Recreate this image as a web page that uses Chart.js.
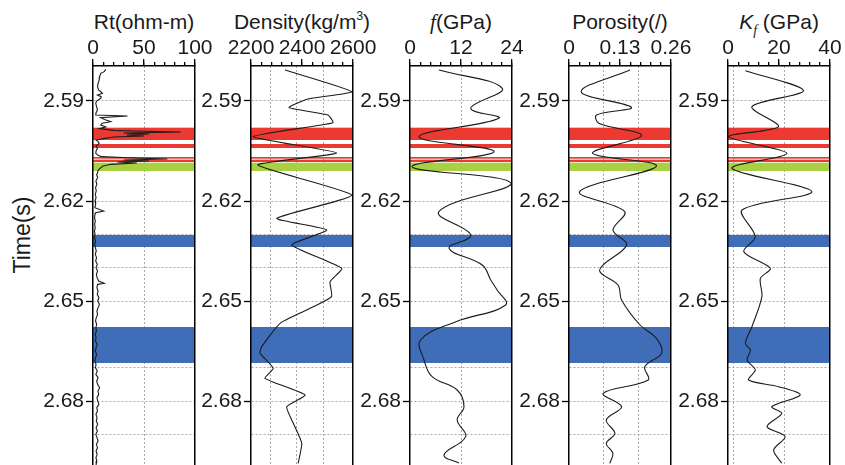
<!DOCTYPE html>
<html><head><meta charset="utf-8">
<script src="https://cdn.jsdelivr.net/npm/chart.js@4.4.1/dist/chart.umd.min.js"></script>
<style>
html,body{margin:0;padding:0;background:#fff;}
#wrap{position:relative;width:845px;height:465px;overflow:hidden;font-family:"Liberation Sans",Arial,sans-serif;color:#1a1a1a;}
canvas{position:absolute;top:0;}
.ttl{position:absolute;top:9px;width:220px;text-align:center;font-size:21px;line-height:26px;white-space:nowrap;}
.ttl sup{font-size:12px;vertical-align:9px;line-height:0;}
.ttl sub{font-size:14px;vertical-align:-6px;line-height:0;}
.it{font-family:"Liberation Serif",serif;font-style:italic;}
#ytitle{position:absolute;left:-38px;top:222px;width:120px;height:26px;line-height:26px;text-align:center;font-size:23px;transform:rotate(-90deg);white-space:nowrap;}
</style></head>
<body><div id="wrap">
<div class="ttl" style="left:34px">Rt(ohm-m)</div>
<div class="ttl" style="left:192px">Density(kg/m<sup>3</sup>)</div>
<div class="ttl" style="left:351px"><span class="it">f</span>(GPa)</div>
<div class="ttl" style="left:510px">Porosity(/)</div>
<div class="ttl" style="left:669px"><i>K</i><sub class="it">f</sub> (GPa)</div>
<div id="ytitle">Time(s)</div>
</div>
<script>
// ---------- data ----------
const timeGridTicks = [2.59,2.60,2.61,2.62,2.63,2.64,2.65,2.66,2.67,2.68,2.69];
const timeLabelTicks = [2.59,2.62,2.65,2.68];

const rtTicks = [0,50,100];
const denTicks = [2200,2400,2600];
const fTicks = [0,12,24];
const porTicks = [0,0.13,0.26];
const kfTicks = [0,20,40];
const rtTickLabels = ['0','50','100'];
const denTickLabels = ['2200','2400','2600'];
const fTickLabels = ['0','12','24'];
const porTickLabels = ['0','0.13','0.26'];
const kfTickLabels = ['0','20','40'];

const bandStart = [2.5980,2.6029,2.6068,2.6076,2.6085,2.6302,2.6578];
const bandEnd   = [2.6017,2.6041,2.6073,2.6083,2.6110,2.6338,2.6686];
const bandColor = ['#ec3a32','#ec3a32','#ec3a32','#ec3a32','#a8d042','#3f6db8','#3f6db8'];

const rtTime = [2.5805,2.5812,2.5817,2.5827,2.5837,2.5847,2.5857,2.5867,2.5877,2.5882,2.5887,2.5892,2.5900,2.5907,2.5917,2.5927,2.5935,2.5942,2.5945,2.5950,2.5956,2.5962,2.5967,2.5972,2.5978,2.5983,2.5988,2.5990,2.5993,2.5996,2.5999,2.6002,2.6005,2.6008,2.6012,2.6017,2.6022,2.6027,2.6035,2.6042,2.6050,2.6057,2.6063,2.6067,2.6071,2.6074,2.6077,2.6080,2.6083,2.6086,2.6090,2.6095,2.6100,2.6108,2.6117,
2.612,2.613,2.614,2.615,2.616,2.617,2.618,2.619,2.620,2.621,2.622,2.623,2.6235,2.624,2.625,2.626,2.627,2.628,2.629,2.630,2.631,2.632,2.633,2.634,2.635,2.636,2.637,2.638,2.639,2.640,2.641,2.642,2.643,2.644,2.6447,2.645,2.646,2.647,2.648,2.649,2.650,2.651,2.652,2.653,2.654,2.655,2.656,2.657,2.658,2.659,2.660,2.661,2.662,2.663,2.664,2.665,2.666,2.667,2.668,2.669,2.670,2.671,2.672,2.673,2.674,2.675,2.676,2.677,2.678,2.679,2.680,2.681,2.682,2.683,2.684,2.685,2.686,2.687,2.688,2.689,2.690,2.691,2.692,2.693,2.694,2.695,2.696,2.697,2.698,2.699];
const rtValue = [12.5,11,7.6,6.5,6.1,5,4.4,5.5,9.3,4.4,8,7.6,3.5,2.7,3.5,4.4,3,2.7,33.8,7.6,12,17.5,9,7.6,12.5,6.1,20,40,86,30,55,33,50,20,12,3,5,6,3,4.4,3,2.7,5,8,40,73,30,55,24,43,17.5,10,7.6,5,4.4,
3.5,4.5,2.8,3.8,2.5,3.2,2.2,3.0,2.0,2.6,1.8,10.5,2.5,2.0,1.5,2.3,1.6,2.2,1.4,2.0,1.5,2.6,1.7,2.4,3.2,2.2,3.5,2.6,4.2,3.0,4.5,3.3,4.0,5.5,11,4.5,3.8,5.0,4.2,5.8,4.6,6.3,5.0,3.8,4.5,3.2,2.5,3.6,2.8,3.4,2.2,3.0,2.4,4.0,3.1,2.2,3.5,2.6,1.8,3.0,2.4,4.2,2.8,5.0,3.6,4.5,6.5,4.8,5.6,3.9,4.6,5.8,3.7,4.4,2.9,4.0,3.2,4.6,3.0,4.3,2.8,3.9,5.0,3.3,4.4,3.0,4.1,2.9,3.8,3.1];

const denTime  = [2.5807,2.5872,2.5894,2.5920,2.5942,2.5965,2.6007,2.6056,2.6092,2.6182,2.6252,2.6287,2.6332,2.6402,2.6442,2.6487,2.6527,2.6567,2.6637,2.6656,2.6702,2.6732,2.6782,2.6817,2.6867,2.6927,2.6987];
const denValue = [2333,2595,2423,2349,2502,2521,2208,2536,2227,2595,2301,2497,2360,2556,2510,2516,2418,2314,2242,2235,2287,2255,2412,2340,2366,2399,2385];

const fTime  = [2.5807,2.5862,2.5922,2.5952,2.6007,2.6052,2.6097,2.6147,2.6232,2.6302,2.6342,2.6392,2.6437,2.6467,2.6512,2.6562,2.6617,2.6677,2.6727,2.6767,2.6817,2.6857,2.6907,2.6962,2.6986];
const fValue = [6.8,21.7,14.3,20.9,2.1,19.8,0.5,23.8,6.8,14.3,9.2,17.0,19.0,20.5,22.5,10.8,2.5,3.3,5.2,11.1,12.7,11.1,13.1,8.0,11.5];

const porTime  = [2.5807,2.5872,2.5919,2.5942,2.5967,2.6004,2.6057,2.6095,2.6172,2.6232,2.6287,2.6332,2.6407,2.6452,2.6497,2.6572,2.6612,2.6657,2.6697,2.6737,2.6777,2.6817,2.6857,2.6897,2.6927,2.6957,2.6987];
const porValue = [0.155,0.031,0.159,0.070,0.076,0.185,0.060,0.223,0.027,0.142,0.112,0.147,0.078,0.125,0.134,0.181,0.223,0.236,0.193,0.202,0.087,0.134,0.095,0.117,0.095,0.112,0.104];

const kfTime  = [2.5809,2.5869,2.5917,2.5977,2.6007,2.6057,2.6102,2.6172,2.6227,2.6307,2.6352,2.6402,2.6432,2.6487,2.6577,2.6627,2.6647,2.6677,2.6707,2.6737,2.6757,2.6782,2.6817,2.6837,2.6877,2.6907,2.6947,2.6987];
const kfValue = [6.8,29.6,9.4,19.8,0.3,23.1,1.6,32.9,5.5,10.7,6.2,16.6,12.7,13.3,9.4,6.8,8.8,7.5,10.7,8.1,19.8,28.3,17.2,21.1,15.3,22.4,17.9,21.1];

// ---------- layout ----------
const T_MIN = 2.5795, T_MAX = 2.6992;
const PLOT_W = 102, PAD_R = 25, TOP_H = 66, H = 465;
const FONT = {family:'"Liberation Sans", Arial, sans-serif', size:21, lineHeight:1.0};
const TXT = '#1a1a1a';

const panels = [
  {left:93,  axisW:93, min:0,    max:100,  major:rtTicks,  labels:rtTickLabels,  minorStep:10,    grid:[50],           time:rtTime,  vals:rtValue,  tension:0,    bw:1.1},
  {left:251, axisW:60, min:2200, max:2600, major:denTicks, labels:denTickLabels, minorStep:40,    grid:[2275,2380,2485], time:denTime, vals:denValue, tension:0.15, bw:1.1},
  {left:410, axisW:60, min:0,    max:24,   major:fTicks,   labels:fTickLabels,   minorStep:2.4,   grid:[12],           time:fTime,   vals:fValue,   tension:0.4,  bw:1.1},
  {left:569, axisW:60, min:0,    max:0.26, major:porTicks, labels:porTickLabels, minorStep:0.026, grid:[0.087,0.178],  time:porTime, vals:porValue, tension:0.35, bw:1.1},
  {left:728, axisW:60, min:0,    max:40,   major:kfTicks,  labels:kfTickLabels,  minorStep:4,     grid:[2,22],         time:kfTime,  vals:kfValue,  tension:0.3,  bw:1.1}
];

const isLabelled = v => timeLabelTicks.some(l => Math.abs(l - v) < 1e-6);

const bandPlugin = {
  id:'bands',
  beforeDatasetsDraw(chart){
    const {ctx, chartArea:a, scales:{y}} = chart;
    ctx.save();
    ctx.beginPath(); ctx.rect(a.left, a.top, a.width, a.height); ctx.clip();
    bandStart.forEach((s,i) => {
      const y0 = y.getPixelForValue(s), y1 = y.getPixelForValue(bandEnd[i]);
      ctx.fillStyle = bandColor[i];
      ctx.fillRect(a.left, Math.min(y0,y1), a.width, Math.abs(y1-y0));
    });
    ctx.restore();
  }
};

const noPadY = s => { s.paddingTop = 0; s.paddingBottom = 0; };

const wrap = document.getElementById('wrap');
panels.forEach(p => {
  const cv = document.createElement('canvas');
  cv.width = p.axisW + PLOT_W + PAD_R; cv.height = H;
  cv.style.left = (p.left - p.axisW) + 'px';
  wrap.appendChild(cv);
  const minor = [];
  for (let k = 0; k <= 10; k++) minor.push(p.min + k * p.minorStep);
  const data = p.time.map((t,i) => ({x:p.vals[i], y:t}));
  new Chart(cv, {
    type:'scatter',
    data:{datasets:[{data, showLine:true, pointRadius:0, borderColor:'#1c1c1c', borderWidth:p.bw, tension:p.tension}]},
    options:{
      responsive:false, animation:false, devicePixelRatio:1,
      layout:{padding:{left:0, right:PAD_R, top:0, bottom:0}},
      plugins:{legend:{display:false}, tooltip:{enabled:false}},
      scales:{
        x:{type:'linear', position:'top', min:p.min, max:p.max, weight:2,
           afterBuildTicks:s => { s.ticks = p.major.map(v => ({value:v})); },
           afterFit:s => { s.height = TOP_H; s.paddingLeft = 0; s.paddingRight = 0; },
           grid:{drawOnChartArea:false, tickLength:7, color:'#000', lineWidth:1.3},
           border:{display:true, color:'#000', width:1.5, z:1},
           ticks:{font:FONT, color:TXT, padding:0, maxRotation:0, autoSkip:false, callback:(v,i) => p.labels[i]}},
        xMinor:{type:'linear', position:'top', min:p.min, max:p.max, weight:1,
           afterBuildTicks:s => { s.ticks = minor.map(v => ({value:v})); },
           afterFit:s => { s.height = 0; s.paddingLeft = 0; s.paddingRight = 0; },
           grid:{drawOnChartArea:false, tickLength:4, color:'#000', lineWidth:1.3},
           border:{display:false}, ticks:{display:false}},
        xGrid:{type:'linear', position:'top', min:p.min, max:p.max, weight:0,
           afterBuildTicks:s => { s.ticks = p.grid.map(v => ({value:v})); },
           afterFit:s => { s.height = 0; s.paddingLeft = 0; s.paddingRight = 0; },
           grid:{drawOnChartArea:true, drawTicks:false, color:'#a8a8a8', lineWidth:1},
           border:{display:false, dash:[2,2]}, ticks:{display:false}},
        y:{type:'linear', position:'left', reverse:true, min:T_MIN, max:T_MAX,
           afterBuildTicks:s => { s.ticks = timeGridTicks.map(v => ({value:v})); },
           afterFit:s => { s.width = p.axisW; noPadY(s); },
           grid:{color:'#a8a8a8', lineWidth:1, tickLength:7, tickWidth:1.3, tickBorderDash:[],
                 tickColor:c => (c.tick && isLabelled(c.tick.value)) ? '#000' : 'rgba(0,0,0,0)'},
           border:{display:true, color:'#000', width:1.5, dash:[2,2], z:1},
           ticks:{font:FONT, color:TXT, padding:2, autoSkip:false,
                  callback:v => isLabelled(v) ? v.toFixed(2) : ''}},
        yR:{type:'linear', position:'right', reverse:true, min:T_MIN, max:T_MAX,
           afterFit:s => { s.width = 0; noPadY(s); },
           grid:{display:false}, ticks:{display:false},
           border:{display:true, color:'#000', width:1.5, z:1}}
      }
    },
    plugins:[bandPlugin]
  });
});
</script>
</body></html>
